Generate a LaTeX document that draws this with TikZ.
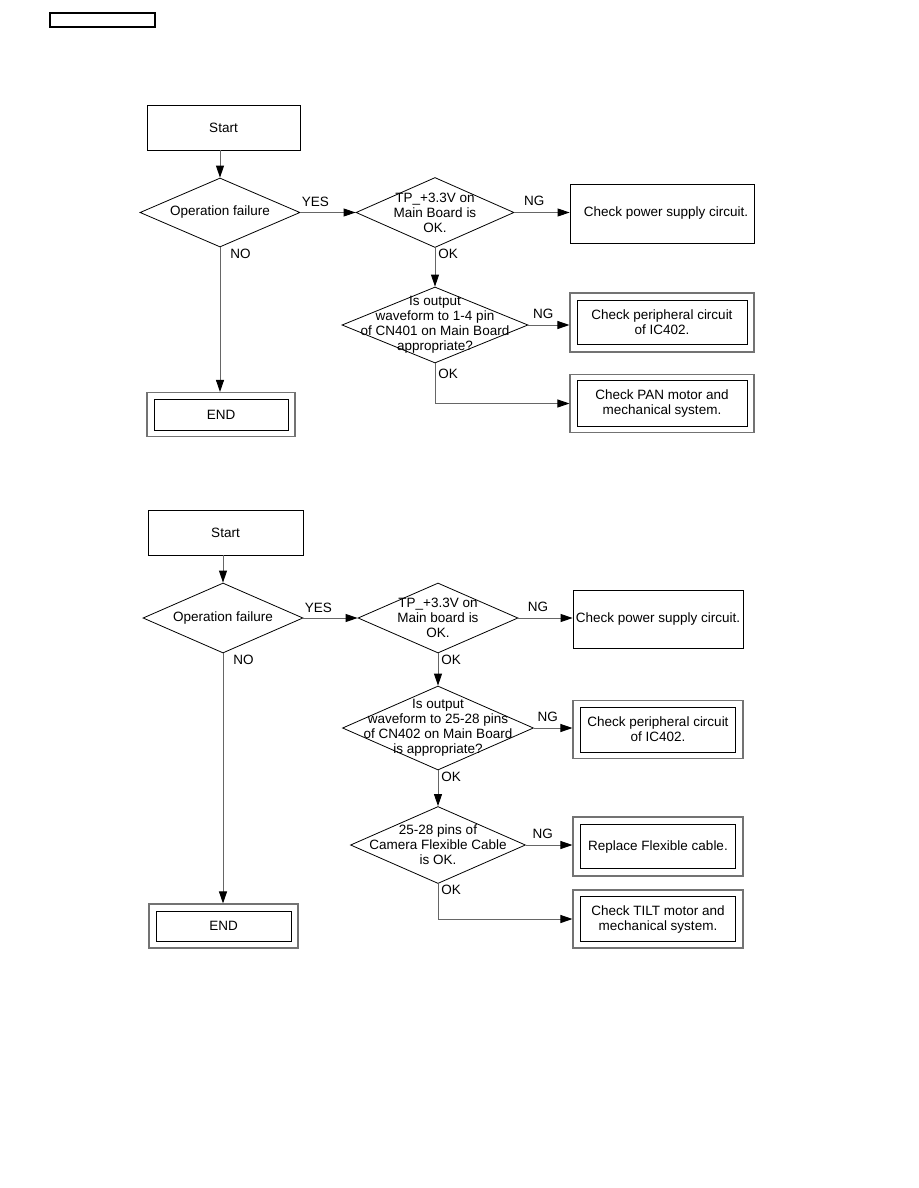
\documentclass[tikz,border=0pt]{standalone}
\usepackage{fontspec}
\setmainfont{Liberation Sans}
\usetikzlibrary{shapes.geometric,arrows.meta,positioning}

\begin{document}
\begin{tikzpicture}[x=1pt, y=-1pt,
    txt/.style={font=\fontsize{13.5}{15}\selectfont, align=center, inner sep=0pt},
    dec/.style={diamond, draw=black, line width=0.8pt, inner sep=0pt},
    proc/.style={rectangle, draw=black, line width=0.8pt, txt},
    obox/.style={rectangle, draw=black!55, line width=1.1pt},
    ibox/.style={rectangle, draw=black, line width=0.8pt, txt},
    flow/.style={draw=black!60, line width=0.9pt,
                 -{Triangle[length=12pt, width=8pt, color=black]}},
    lab/.style={txt}]
  \useasboundingbox (0,0) rectangle (918,1188);

  \node[rectangle, draw=black, line width=1.4pt, minimum width=105, minimum height=14]
    (hdr) at (102.5,20) {};

  % --- upper chart
  \node[proc, minimum width=153, minimum height=45] (startA) at (223.5,127.5) {Start};
  \node[dec, minimum width=160, minimum height=69,
        label={[txt]center:Operation failure}] (failA) at (220,212.5) {};
  \node[dec, minimum width=158, minimum height=70,
        label={[txt]center:TP\_+3.3V on\\Main Board is\\OK.}] (tpA) at (435,212.5) {};
  \node[proc, minimum width=184, minimum height=59] (powerA) at (662,213.5)
    {\hspace*{8pt}Check power supply circuit.};
  \node[dec, minimum width=186, minimum height=76,
        label={[txt]center:Is output\\waveform to 1-4 pin\\of CN401 on Main Board\\appropriate?}]
    (waveA) at (435,325) {};
  \node[obox, minimum width=184, minimum height=59] (periA) at (662,322.5) {};
  \node[ibox, minimum width=170, minimum height=44] (periAin) at (periA)
    {Check peripheral circuit\\of IC402.};
  \node[obox, minimum width=184, minimum height=58] (panA) at (662,403.5) {};
  \node[ibox, minimum width=170, minimum height=46] (panAin) at (panA)
    {Check PAN motor and\\mechanical system.};
  \node[obox, minimum width=148, minimum height=44] (endA) at (221,414.5) {};
  \node[ibox, minimum width=134, minimum height=31] (endAin) at (endA) {END};

  \draw[flow] (startA.south -| failA.north) -- (failA.north);
  \draw[flow] (failA.east) -- (tpA.west)
    node[lab, pos=0, above right=5pt and 1pt] {YES};
  \draw[flow] (tpA.east) -- (tpA.east -| powerA.west)
    node[lab, pos=0.36, above=6pt] {NG};
  \draw[flow] (tpA.south) -- (waveA.north)
    node[lab, pos=0, below right=1pt and 3pt] {OK};
  \draw[flow] (waveA.east) -- (waveA.east -| periA.west)
    node[lab, pos=0.36, above=6pt] {NG};
  \draw[flow] (waveA.south) |- (panA.west)
    node[lab, pos=0, below right=5pt and 3pt] {OK};
  \draw[flow] (failA.south) -- (failA.south |- endA.north)
    node[lab, pos=0, below right=1pt and 10pt] {NO};

  % --- lower chart
  \node[proc, minimum width=155, minimum height=45] (startB) at (225.5,532.5) {Start};
  \node[dec, minimum width=160, minimum height=70,
        label={[txt]center:Operation failure}] (failB) at (223,618) {};
  \node[dec, minimum width=160, minimum height=70,
        label={[txt]center:TP\_+3.3V on\\Main board is\\OK.}] (tpB) at (438,618) {};
  \node[proc, minimum width=170, minimum height=58] (powerB) at (658,619)
    {Check power supply circuit.};
  \node[dec, minimum width=191, minimum height=84,
        label={[txt]center:Is output\\waveform to 25-28 pins\\of CN402 on Main Board\\is appropriate?}]
    (waveB) at (438,728) {};
  \node[obox, minimum width=170, minimum height=58] (periB) at (658,729.5) {};
  \node[ibox, minimum width=155, minimum height=45] (periBin) at (periB)
    {Check peripheral circuit\\of IC402.};
  \node[dec, minimum width=175, minimum height=77,
        label={[txt]center:25-28 pins of\\Camera Flexible Cable\\is OK.}]
    (cableB) at (438,845) {};
  \node[obox, minimum width=170, minimum height=59] (replB) at (658,846.5) {};
  \node[ibox, minimum width=155, minimum height=44] (replBin) at (replB)
    {Replace Flexible cable.};
  \node[obox, minimum width=170, minimum height=58] (tiltB) at (658,919) {};
  \node[ibox, minimum width=155, minimum height=45] (tiltBin) at (tiltB)
    {Check TILT motor and\\mechanical system.};
  \node[obox, minimum width=149, minimum height=44] (endB) at (223.5,926) {};
  \node[ibox, minimum width=135, minimum height=30] (endBin) at (endB) {END};

  \draw[flow] (startB.south -| failB.north) -- (failB.north);
  \draw[flow] (failB.east) -- (tpB.west)
    node[lab, pos=0, above right=5pt and 1pt] {YES};
  \draw[flow] (tpB.east) -- (tpB.east -| powerB.west)
    node[lab, pos=0.36, above=6pt] {NG};
  \draw[flow] (tpB.south) -- (waveB.north)
    node[lab, pos=0, below right=1pt and 3pt] {OK};
  \draw[flow] (waveB.east) -- (waveB.east -| periB.west)
    node[lab, pos=0.36, above=6pt] {NG};
  \draw[flow] (waveB.south) -- (cableB.north)
    node[lab, pos=0, below right=1pt and 3pt] {OK};
  \draw[flow] (cableB.east) -- (cableB.east -| replB.west)
    node[lab, pos=0.36, above=6pt] {NG};
  \draw[flow] (cableB.south) |- (tiltB.west)
    node[lab, pos=0, below right=1pt and 3pt] {OK};
  \draw[flow] (failB.south) -- (failB.south |- endB.north)
    node[lab, pos=0, below right=1pt and 10pt] {NO};
\end{tikzpicture}
\end{document}
